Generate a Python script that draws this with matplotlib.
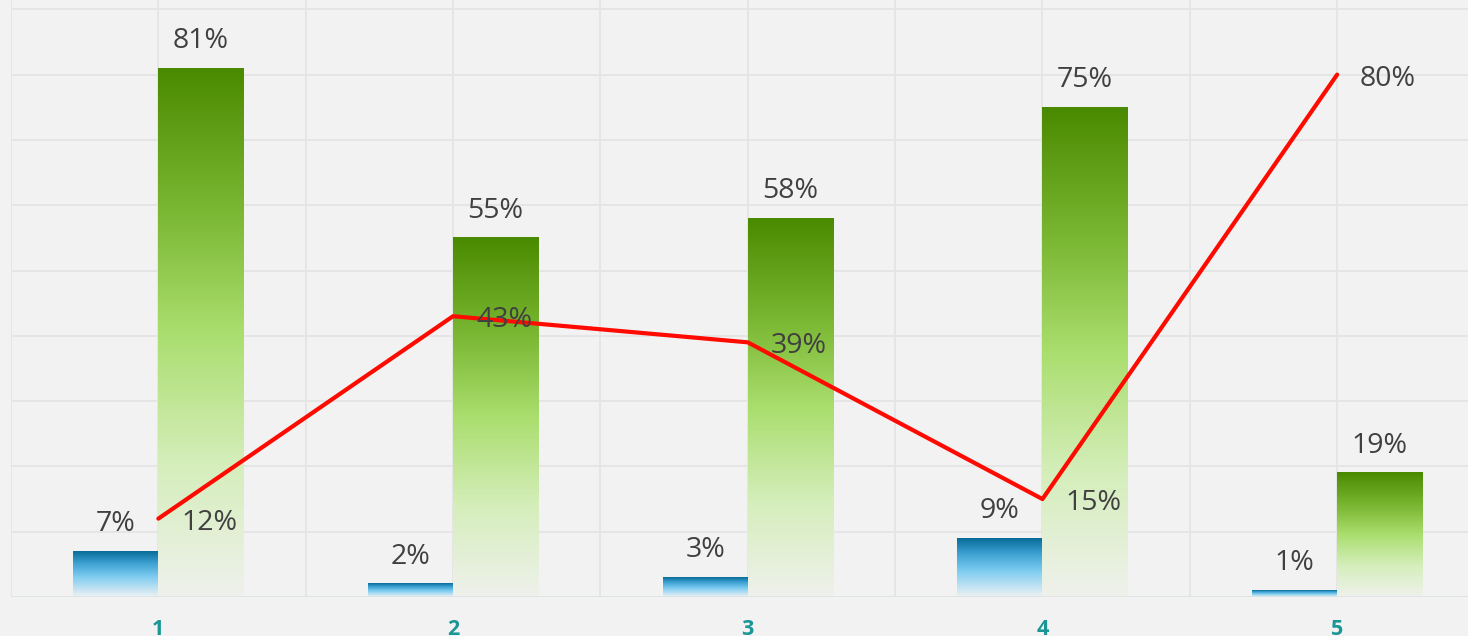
import numpy as np
import matplotlib
matplotlib.use("Agg")
import matplotlib.pyplot as plt
from matplotlib.colors import LinearSegmentedColormap

categories = ["1", "2", "3", "4", "5"]
blue_values = [7, 2, 3, 9, 1]
green_values = [81, 55, 58, 75, 19]
line_values = [12, 43, 39, 15, 80]

plt.rcParams['font.family'] = ['Open Sans', 'DejaVu Sans']

W, H = 1468, 636
fig = plt.figure(figsize=(W / 100, H / 100), dpi=100)
fig.patch.set_facecolor('#f2f2f2')
ax = fig.add_axes([11 / W, 39 / H, 1 - 11 / W, 1 - 39 / H])
ax.set_facecolor('#f2f2f2')

x = np.arange(len(categories))
bw = 0.2885
xlim = (-0.5, -0.5 + (W - 11) / 294.7)
ylim = (0, 597 / 6.53)

# grid
for yv in range(10, 100, 10):
    ax.axhline(yv, color='#e4e4e4', lw=1.3, zorder=0)
for xv in np.arange(-0.5, 4.6, 0.5):
    ax.axvline(xv, color='#e4e4e4', lw=1.3, zorder=0)
ax.axhline(0, color='#dbe3e3', lw=2, zorder=4)

green_cmap = LinearSegmentedColormap.from_list(
    'g', [(0.0, '#eff1ec'), (0.25, '#d5eebb'), (0.5, '#aade6e'),
          (0.72, '#7cb935'), (1.0, '#4a8a00')])
blue_cmap = LinearSegmentedColormap.from_list(
    'b', [(0.0, '#eef2f4'), (0.45, '#7ccbf0'), (0.75, '#3a9fd0'), (1.0, '#086c98')])

grad = np.linspace(0, 1, 256).reshape(-1, 1)
for xi, bv, gv in zip(x, blue_values, green_values):
    ax.imshow(grad, extent=[xi - bw, xi, 0, bv], origin='lower', aspect='auto',
              cmap=blue_cmap, zorder=2, interpolation='bilinear')
    ax.imshow(grad, extent=[xi, xi + bw, 0, gv], origin='lower', aspect='auto',
              cmap=green_cmap, zorder=2, interpolation='bilinear')
    ax.annotate(f"{bv}%", (xi - bw / 2, bv), xytext=(0, 19.5), textcoords='offset points',
                ha='center', va='center', fontsize=20.5, color='#404040', zorder=5)
    ax.annotate(f"{gv}%", (xi + bw / 2, gv), xytext=(0, 19.5), textcoords='offset points',
                ha='center', va='center', fontsize=20.5, color='#404040', zorder=5)

ax.set_xlim(*xlim)
ax.set_ylim(*ylim)

ax.plot(x, line_values, color='#ff0a00', lw=3, zorder=6, solid_capstyle='round')
for xi, lv in zip(x, line_values):
    ax.annotate(f"{lv}%", (xi, lv), xytext=(16.5, -3), textcoords='offset points',
                ha='left', va='center', fontsize=20.5, color='#404040', zorder=7)

ax.set_xticks(x)
ax.set_xticklabels(categories, fontsize=15.5, fontweight='bold', color='#1a9696')
ax.tick_params(axis='x', length=0, pad=15.5)
ax.set_yticks([])
for s in ax.spines.values():
    s.set_visible(False)

fig.savefig('out.png', dpi=100, facecolor=fig.get_facecolor())
